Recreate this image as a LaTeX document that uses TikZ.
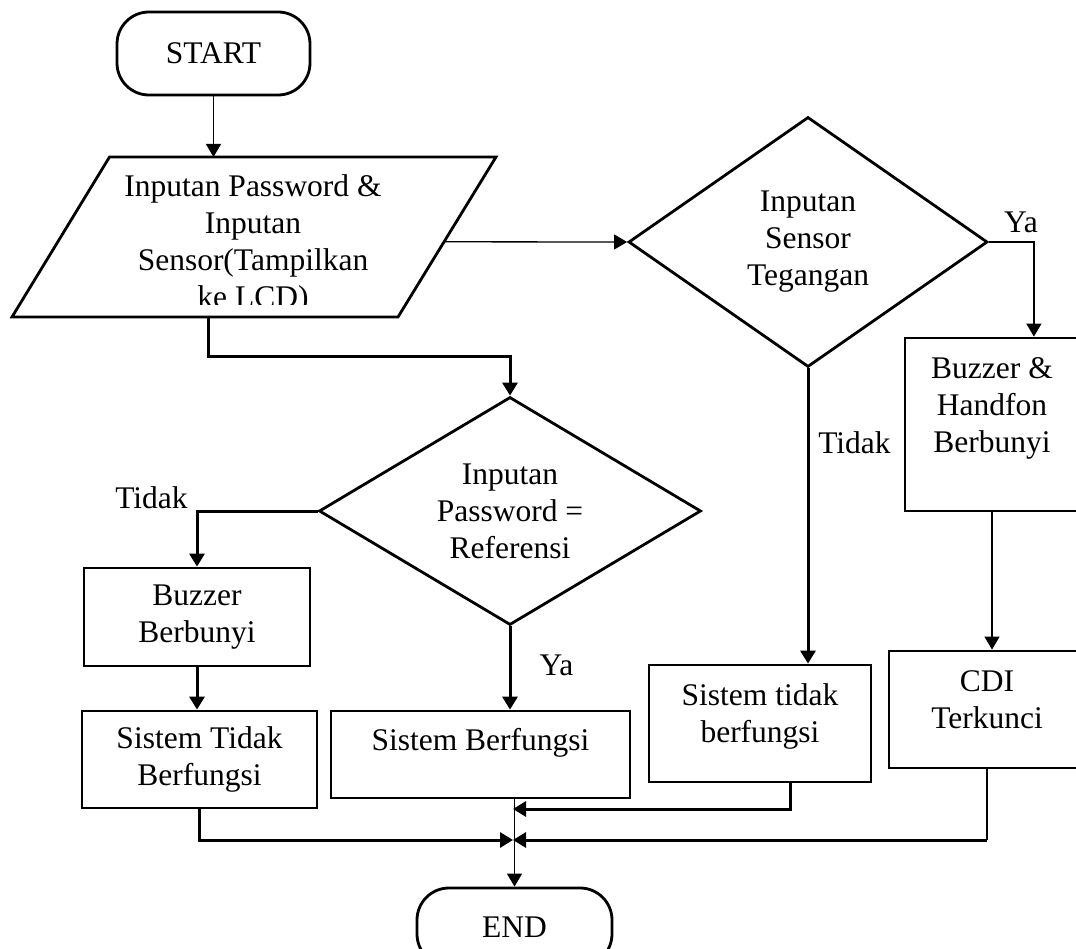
\documentclass[tikz,border=0pt]{standalone}
\usepackage{fontspec}
\setmainfont{Liberation Serif}
\usetikzlibrary{shapes.geometric,arrows.meta,calc}

\begin{document}
\begin{tikzpicture}[x=1pt,y=-1pt,
  font=\fontsize{31.5}{37}\selectfont,
  outline/.style={line width=2.8pt},
  box/.style={draw,outline,align=center,inner sep=0pt},
  term/.style={box,rounded corners=32pt},
  dec/.style={box,diamond},
  flow/.style={line width=1.3pt},
  flowb/.style={line width=3pt},
  arr/.style={-{Triangle[length=13pt,width=15pt]}}]
\clip (0,0) rectangle (1076,949);
\node[term,minimum width=193pt,minimum height=83pt] (1) at (213.5,53.5) {START};
\coordinate (2tl) at (109.5,157);
\coordinate (2tr) at (496,157);
\coordinate (2br) at (398,317);
\coordinate (2bl) at (12,317);
\draw[outline] (2tl) -- (2tr) -- (2br) -- (2bl) -- cycle;
\begin{scope}
\clip (0,150) rectangle (540,305);
\node[align=center] (2) at (253,244.5) {Inputan Password \&\\Inputan\\Sensor(Tampilkan\\ke LCD)};
\end{scope}
\node[dec,minimum width=382pt,minimum height=228pt,aspect=1.675] (3) at (510,511) {Inputan\\Password =\\Referensi};
\node[dec,minimum width=359pt,minimum height=250pt,aspect=1.44] (4) at (808,242) {Inputan\\Sensor\\Tegangan};
\node[box,minimum width=226pt,minimum height=98pt] (5) at (197,617) {Buzzer\\Berbunyi};
\node[box,minimum width=235pt,minimum height=97pt] (6) at (199.5,759.5) {Sistem Tidak\\Berfungsi};
\node[box,minimum width=299pt,minimum height=87pt] (7) at (480.5,754.5) {Sistem Berfungsi\\[-6.5pt]\mbox{}};
\node[box,minimum width=222pt,minimum height=117pt] (8) at (760,723.5) {Sistem tidak\\berfungsi\\[-16.5pt]\mbox{}};
\node[box,minimum width=174pt,minimum height=173pt] (9) at (992,424.5) {Buzzer \&\\Handfon\\Berbunyi\\[2pt]\mbox{}};
\node[box,minimum width=196pt,minimum height=117pt] (10) at (987,709.5) {CDI\\Terkunci\\[-16.5pt]\mbox{}};
\node[term,minimum width=195pt,minimum height=78pt] (11) at (514.5,927) {END};
\node[anchor=base] (12) at (1021,233) {Ya};
\node[anchor=base] (13) at (854.5,453) {Tidak};
\node[anchor=base] (14) at (151.5,508) {Tidak};
\node[anchor=base] (15) at (556.5,675) {Ya};
\coordinate (2r) at ($(2tr)!0.53!(2br)$);
\coordinate (2b) at ($(2bl)!0.51!(2br)$);
\coordinate (m1) at (513,809);
\coordinate (m2) at (513,840);
\draw[flow,arr] (1.south) -- (1.south |- 2tl);
\draw[flow,arr] (2r) -- (4.west);
\draw[flowb,arr] (2b) -- ++(0,40) -| (3.north);
\draw[flowb,arr] (3.west) -| (5.north);
\draw[flowb,arr] (5.south) -- (5.south |- 6.north);
\draw[flowb,arr] (3.south) -- (3.south |- 7.north);
\draw[flowb,arr] (4.south) -- (4.south |- 8.north);
\draw[flow,arr] (4.east) -- ++(45,0) coordinate (4r) -- (4r |- 9.north);
\draw[flow,arr] (9.south) -- (9.south |- 10.north);
\draw[flow,arr] (11.north |- 7.south) -- (11.north);
\draw[flowb,arr] ([xshift=30pt]8.south) |- (m1);
\draw[flowb,arr] (6.south) |- (m2);
\draw[flow] (10.south) -- (10.south |- m2);
\draw[flowb,arr] (10.south |- m2) -- (m2);
\end{tikzpicture}
\end{document}
